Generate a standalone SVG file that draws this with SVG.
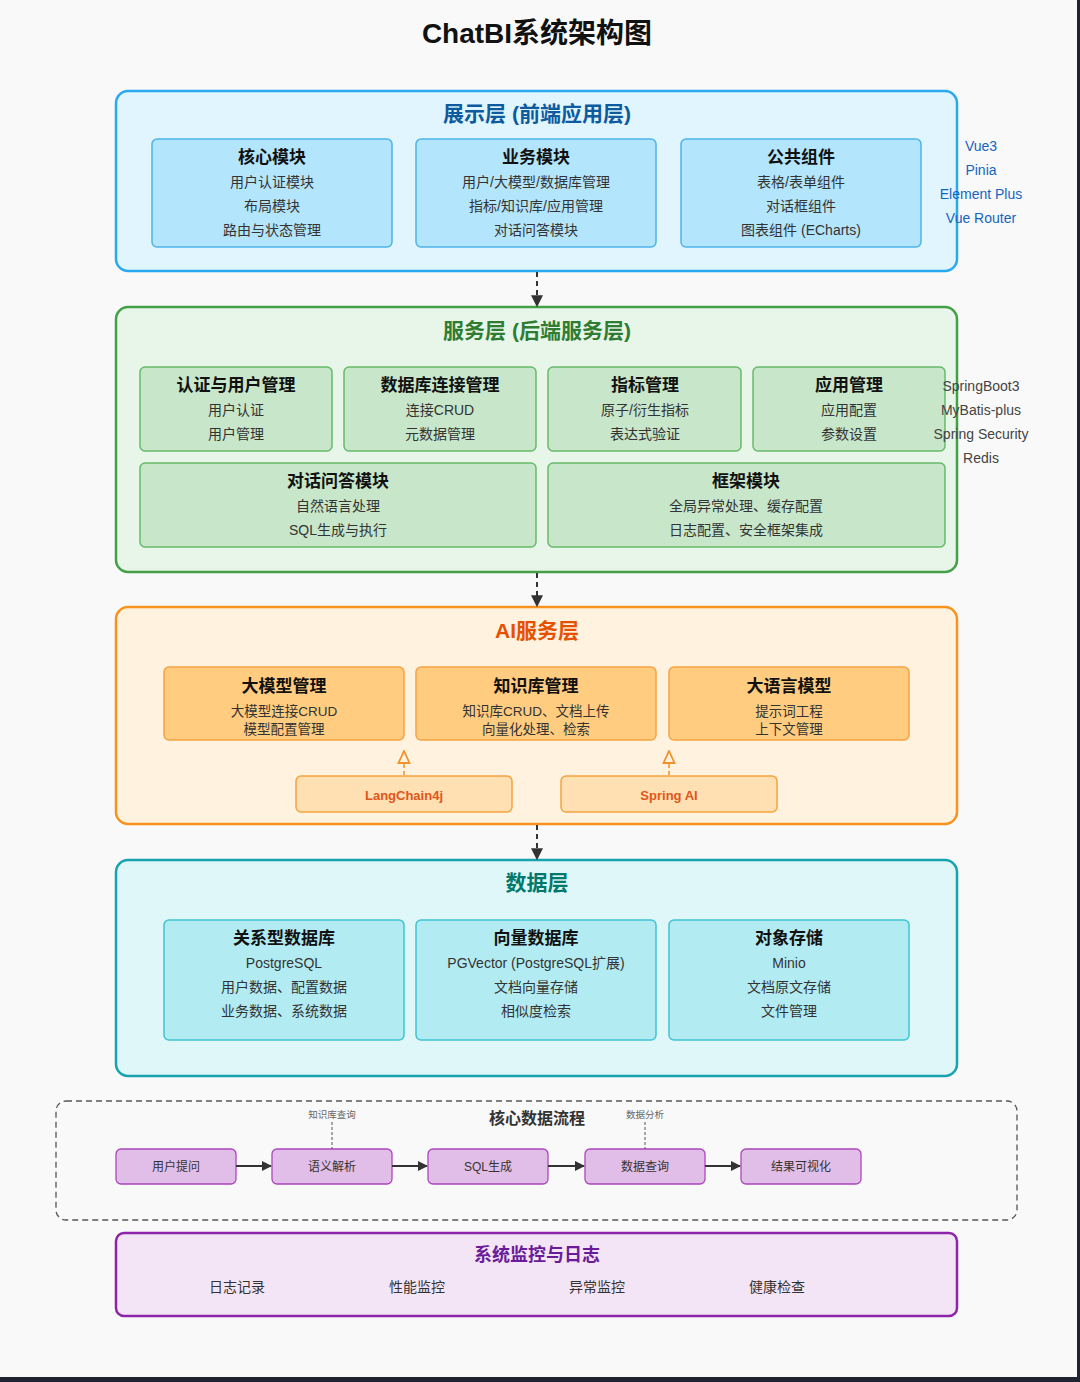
<svg xmlns="http://www.w3.org/2000/svg" width="1080" height="1382" viewBox="0 0 1080 1382">
<defs>
<style>
text{font-family:"Liberation Sans","Noto Sans CJK SC",sans-serif;text-anchor:middle;dominant-baseline:central}
.title{font-size:28px;font-weight:bold;fill:#111}
.lt{font-size:21px;font-weight:bold}
.bt{font-size:17px;font-weight:bold;fill:#111}
.bl{font-size:14px;fill:#333}
.bs{font-size:13.5px;fill:#333}
.side{font-size:14px}
.flow{font-size:12px;fill:#333}
.ann{font-size:9.5px;fill:#666}
.layer{stroke-width:2.5}
.conn{stroke:#333;stroke-width:2;stroke-dasharray:5,4;fill:none}
</style>
<marker id="ah" viewBox="0 0 10 10" refX="9" refY="5" markerWidth="6" markerHeight="6" orient="auto"><path d="M0,0L10,5L0,10z" fill="#333"/></marker>
<marker id="ahs" viewBox="0 0 10 10" refX="9" refY="5" markerWidth="5" markerHeight="5" orient="auto"><path d="M0,0L10,5L0,10z" fill="#333"/></marker>
<marker id="hollow" viewBox="0 0 14 14" refX="13" refY="7" markerWidth="14" markerHeight="14" orient="auto" markerUnits="userSpaceOnUse"><path d="M1,1.5L13,7L1,12.5z" fill="#fff3e0" stroke="#f0922b" stroke-width="1.8"/></marker>
</defs>
<rect x="0" y="0" width="1080" height="1382" fill="#f9f9f9"/>
<rect x="1077" y="0" width="3" height="1382" fill="#1f2430"/>
<rect x="0" y="1377" width="1080" height="5" fill="#1f2430"/>

<text class="title" x="537" y="33">ChatBI系统架构图</text>

<!-- Presentation layer -->
<g id="layer-presentation">
<rect class="layer" x="116" y="91" width="841" height="180" rx="12" fill="#e1f5fe" stroke="#29a9f0"/>
<text class="lt" x="537" y="113" fill="#0d5a9e">展示层 (前端应用层)</text>
<g id="core-module"><rect x="152" y="139" width="240" height="108" rx="5" fill="#b3e5fc" stroke="#4fb3ea" stroke-width="1.5"/>
<text class="bt" x="272" y="157">核心模块</text><text class="bl" x="272" y="182">用户认证模块</text><text class="bl" x="272" y="206">布局模块</text><text class="bl" x="272" y="230">路由与状态管理</text></g>
<g id="biz-module"><rect x="416" y="139" width="240" height="108" rx="5" fill="#b3e5fc" stroke="#4fb3ea" stroke-width="1.5"/>
<text class="bt" x="536" y="157">业务模块</text><text class="bl" x="536" y="182">用户/大模型/数据库管理</text><text class="bl" x="536" y="206">指标/知识库/应用管理</text><text class="bl" x="536" y="230">对话问答模块</text></g>
<g id="common-comp"><rect x="681" y="139" width="240" height="108" rx="5" fill="#b3e5fc" stroke="#4fb3ea" stroke-width="1.5"/>
<text class="bt" x="801" y="157">公共组件</text><text class="bl" x="801" y="182">表格/表单组件</text><text class="bl" x="801" y="206">对话框组件</text><text class="bl" x="801" y="230">图表组件 (ECharts)</text></g>
<g id="fe-tech"><text class="side" x="981" y="146" fill="#1565c0">Vue3</text><text class="side" x="981" y="170" fill="#1565c0">Pinia</text><text class="side" x="981" y="194" fill="#1565c0">Element Plus</text><text class="side" x="981" y="218" fill="#1565c0">Vue Router</text></g>
</g>

<!-- Service layer -->
<g id="layer-service">
<rect class="layer" x="116" y="307" width="841" height="265" rx="12" fill="#e8f5e9" stroke="#43a047"/>
<text class="lt" x="537" y="330" fill="#2e7d32">服务层 (后端服务层)</text>
<g id="auth"><rect x="140" y="367" width="192" height="84" rx="5" fill="#c8e6c9" stroke="#66bb6a" stroke-width="1.5"/>
<text class="bt" x="236" y="385">认证与用户管理</text><text class="bl" x="236" y="410">用户认证</text><text class="bl" x="236" y="434">用户管理</text></g>
<g id="dbconn"><rect x="344" y="367" width="192" height="84" rx="5" fill="#c8e6c9" stroke="#66bb6a" stroke-width="1.5"/>
<text class="bt" x="440" y="385">数据库连接管理</text><text class="bl" x="440" y="410">连接CRUD</text><text class="bl" x="440" y="434">元数据管理</text></g>
<g id="metric"><rect x="548" y="367" width="193" height="84" rx="5" fill="#c8e6c9" stroke="#66bb6a" stroke-width="1.5"/>
<text class="bt" x="645" y="385">指标管理</text><text class="bl" x="645" y="410">原子/衍生指标</text><text class="bl" x="645" y="434">表达式验证</text></g>
<g id="app"><rect x="753" y="367" width="192" height="84" rx="5" fill="#c8e6c9" stroke="#66bb6a" stroke-width="1.5"/>
<text class="bt" x="849" y="385">应用管理</text><text class="bl" x="849" y="410">应用配置</text><text class="bl" x="849" y="434">参数设置</text></g>
<g id="chat"><rect x="140" y="463" width="396" height="84" rx="5" fill="#c8e6c9" stroke="#66bb6a" stroke-width="1.5"/>
<text class="bt" x="338" y="481">对话问答模块</text><text class="bl" x="338" y="506">自然语言处理</text><text class="bl" x="338" y="530">SQL生成与执行</text></g>
<g id="framework"><rect x="548" y="463" width="397" height="84" rx="5" fill="#c8e6c9" stroke="#66bb6a" stroke-width="1.5"/>
<text class="bt" x="746" y="481">框架模块</text><text class="bl" x="746" y="506">全局异常处理、缓存配置</text><text class="bl" x="746" y="530">日志配置、安全框架集成</text></g>
<g id="be-tech"><text class="side" x="981" y="386" fill="#444">SpringBoot3</text><text class="side" x="981" y="410" fill="#444">MyBatis-plus</text><text class="side" x="981" y="434" fill="#444">Spring Security</text><text class="side" x="981" y="458" fill="#444">Redis</text></g>
</g>

<!-- AI layer -->
<g id="layer-ai">
<rect class="layer" x="116" y="607" width="841" height="217" rx="12" fill="#fff3e0" stroke="#f7931e"/>
<text class="lt" x="537" y="630" fill="#e65100">AI服务层</text>
<g id="llm-mgmt"><rect x="164" y="667" width="240" height="73" rx="5" fill="#ffcc80" stroke="#f5a340" stroke-width="1.5"/>
<text class="bt" x="284" y="686">大模型管理</text><text class="bs" x="284" y="711">大模型连接CRUD</text><text class="bs" x="284" y="729">模型配置管理</text></g>
<g id="kb-mgmt"><rect x="416" y="667" width="240" height="73" rx="5" fill="#ffcc80" stroke="#f5a340" stroke-width="1.5"/>
<text class="bt" x="536" y="686">知识库管理</text><text class="bs" x="536" y="711">知识库CRUD、文档上传</text><text class="bs" x="536" y="729">向量化处理、检索</text></g>
<g id="llm"><rect x="669" y="667" width="240" height="73" rx="5" fill="#ffcc80" stroke="#f5a340" stroke-width="1.5"/>
<text class="bt" x="789" y="686">大语言模型</text><text class="bs" x="789" y="711">提示词工程</text><text class="bs" x="789" y="729">上下文管理</text></g>
<g id="langchain4j"><rect x="296" y="776" width="216" height="36" rx="5" fill="#ffe0b2" stroke="#f5a340" stroke-width="1.5"/>
<text x="404" y="795" font-size="13" font-weight="bold" fill="#e0561a">LangChain4j</text></g>
<g id="springai"><rect x="561" y="776" width="216" height="36" rx="5" fill="#ffe0b2" stroke="#f5a340" stroke-width="1.5"/>
<text x="669" y="795" font-size="13" font-weight="bold" fill="#e0561a">Spring AI</text></g>
</g>

<!-- Data layer -->
<g id="layer-data">
<rect class="layer" x="116" y="860" width="841" height="216" rx="12" fill="#e0f7fa" stroke="#17a2b0"/>
<text class="lt" x="537" y="882" fill="#00796b">数据层</text>
<g id="rdb"><rect x="164" y="920" width="240" height="120" rx="5" fill="#b2ebf2" stroke="#3fc3d3" stroke-width="1.5"/>
<text class="bt" x="284" y="938">关系型数据库</text><text class="bl" x="284" y="963">PostgreSQL</text><text class="bl" x="284" y="987">用户数据、配置数据</text><text class="bl" x="284" y="1011">业务数据、系统数据</text></g>
<g id="vdb"><rect x="416" y="920" width="240" height="120" rx="5" fill="#b2ebf2" stroke="#3fc3d3" stroke-width="1.5"/>
<text class="bt" x="536" y="938">向量数据库</text><text class="bl" x="536" y="963">PGVector (PostgreSQL扩展)</text><text class="bl" x="536" y="987">文档向量存储</text><text class="bl" x="536" y="1011">相似度检索</text></g>
<g id="oss"><rect x="669" y="920" width="240" height="120" rx="5" fill="#b2ebf2" stroke="#3fc3d3" stroke-width="1.5"/>
<text class="bt" x="789" y="938">对象存储</text><text class="bl" x="789" y="963">Minio</text><text class="bl" x="789" y="987">文档原文存储</text><text class="bl" x="789" y="1011">文件管理</text></g>
</g>

<!-- Core data flow -->
<g id="flow">
<rect x="56" y="1101" width="961" height="119" rx="10" fill="none" stroke="#555" stroke-width="1.3" stroke-dasharray="6,4"/>
<text x="537" y="1118" font-size="16" font-weight="bold" fill="#333">核心数据流程</text>
<g id="f1"><rect x="116" y="1149" width="120" height="35" rx="5" fill="#e1bee7" stroke="#ab47bc" stroke-width="1.3"/><text class="flow" x="176" y="1167">用户提问</text></g>
<g id="f2"><rect x="272" y="1149" width="120" height="35" rx="5" fill="#e1bee7" stroke="#ab47bc" stroke-width="1.3"/><text class="flow" x="332" y="1167">语义解析</text></g>
<g id="f3"><rect x="428" y="1149" width="120" height="35" rx="5" fill="#e1bee7" stroke="#ab47bc" stroke-width="1.3"/><text class="flow" x="488" y="1167">SQL生成</text></g>
<g id="f4"><rect x="585" y="1149" width="120" height="35" rx="5" fill="#e1bee7" stroke="#ab47bc" stroke-width="1.3"/><text class="flow" x="645" y="1167">数据查询</text></g>
<g id="f5"><rect x="741" y="1149" width="120" height="35" rx="5" fill="#e1bee7" stroke="#ab47bc" stroke-width="1.3"/><text class="flow" x="801" y="1167">结果可视化</text></g>
<text class="ann" x="332" y="1114">知识库查询</text>
<text class="ann" x="645" y="1114">数据分析</text>
</g>

<!-- Monitoring -->
<g id="layer-monitor">
<rect class="layer" x="116" y="1233" width="841" height="83" rx="8" fill="#f3e5f5" stroke="#8e24aa"/>
<text x="537" y="1255" font-size="18" font-weight="bold" fill="#6a1b9a">系统监控与日志</text>
<text class="bl" x="237" y="1287">日志记录</text>
<text class="bl" x="417" y="1287">性能监控</text>
<text class="bl" x="597" y="1287">异常监控</text>
<text class="bl" x="777" y="1287">健康检查</text>
</g>

<!-- Connectors -->
<g id="connectors">
<line class="conn" x1="537" y1="272" x2="537" y2="306" marker-end="url(#ah)"/>
<line class="conn" x1="537" y1="573" x2="537" y2="606" marker-end="url(#ah)"/>
<line class="conn" x1="537" y1="825" x2="537" y2="859" marker-end="url(#ah)"/>
<line x1="404" y1="775" x2="404" y2="751" stroke="#f0922b" stroke-width="1.5" stroke-dasharray="4,3" marker-end="url(#hollow)"/>
<line x1="669" y1="775" x2="669" y2="751" stroke="#f0922b" stroke-width="1.5" stroke-dasharray="4,3" marker-end="url(#hollow)"/>
<line x1="236" y1="1166" x2="271" y2="1166" stroke="#333" stroke-width="2" marker-end="url(#ahs)"/>
<line x1="392" y1="1166" x2="427" y2="1166" stroke="#333" stroke-width="2" marker-end="url(#ahs)"/>
<line x1="548" y1="1166" x2="584" y2="1166" stroke="#333" stroke-width="2" marker-end="url(#ahs)"/>
<line x1="705" y1="1166" x2="740" y2="1166" stroke="#333" stroke-width="2" marker-end="url(#ahs)"/>
<line x1="332" y1="1122" x2="332" y2="1149" stroke="#555" stroke-width="1" stroke-dasharray="3,2"/>
<line x1="645" y1="1122" x2="645" y2="1149" stroke="#555" stroke-width="1" stroke-dasharray="3,2"/>
</g>
</svg>
